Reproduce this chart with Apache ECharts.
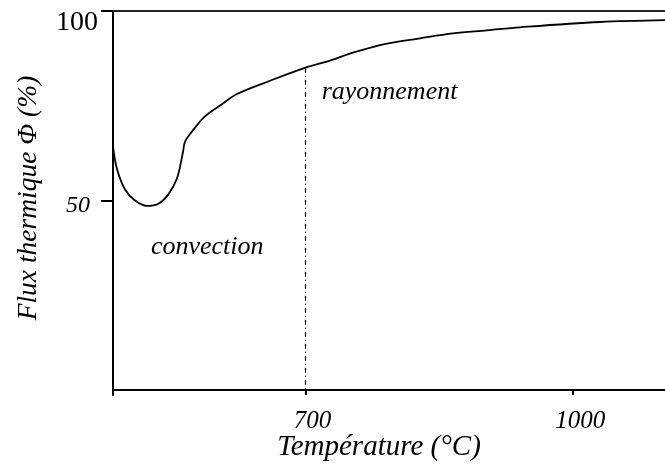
<!DOCTYPE html>
<html>
<head>
<meta charset="utf-8">
<script src="https://cdn.jsdelivr.net/npm/echarts@6/dist/echarts.min.js"></script>
<style>html,body{margin:0;padding:0;background:#fff}#c{width:665px;height:466px}</style>
</head>
<body>
<div id="c"></div>
<script>
var temperatures = [484, 488.5, 497.5, 508.7, 522.1, 534.4, 545.7, 555.7, 562.5, 564.7, 572.6, 587.1, 606.2, 623, 660, 699.2, 727.3, 753, 791.2, 828.2, 865.2, 903.3, 940.3, 1030, 1103];
var flux = [64.2, 58.3, 52.9, 50.0, 48.6, 49.1, 51.5, 55.8, 62.8, 65.5, 68.2, 72.2, 75.4, 78.1, 81.6, 85.0, 86.9, 89.0, 91.4, 92.8, 94.1, 94.9, 95.7, 97.1, 97.6];
var xTicks = [700, 1000];
var yTicks = [50, 100];
var boundaryTemp = 700;
var boundaryFlux = 85.0;
var regionLabels = ['rayonnement', 'convection'];
var regionPos = [[718, 78.5], [526.5, 37.8]];
var xTitle = 'Température (°C)';
var yTitle = 'Flux thermique Φ (%)';

var FONT = 'Liberation Serif';
var data = temperatures.map(function (t, i) { return [t, flux[i]]; });

var chart = echarts.init(document.getElementById('c'));
chart.setOption({
  animation: false,
  backgroundColor: '#fff',
  grid: { left: 113, right: 0, top: 11, bottom: 71, containLabel: false, outerBoundsMode: 'none' },
  xAxis: [{
    type: 'value', min: 484, max: 1103, position: 'bottom',
    splitLine: { show: false },
    axisLine: { show: true, lineStyle: { color: '#000', width: 2 } },
    axisTick: { show: true, customValues: xTicks, length: 5, lineStyle: { color: '#000', width: 2 } },
    axisLabel: { show: true, customValues: xTicks, margin: 14, fontFamily: FONT, fontStyle: 'italic', fontSize: 25, color: '#000',
      padding: [0, 0, 0, 14],
      formatter: function (v) { return String(v); } },
    name: xTitle, nameLocation: 'middle', nameGap: 38, nameMoveOverlap: false,
    nameTextStyle: { fontFamily: FONT, fontStyle: 'italic', fontSize: 29, color: '#000', padding: [0, 20, 0, 0] }
  }, {
    type: 'value', min: 484, max: 1103, position: 'top',
    splitLine: { show: false },
    axisLine: { show: true, lineStyle: { color: '#222', width: 2 } },
    axisTick: { show: false }, axisLabel: { show: false }
  }],
  yAxis: {
    type: 'value', min: -1.3, max: 100,
    splitLine: { show: false },
    axisLine: { show: true, lineStyle: { color: '#000', width: 2 } },
    axisTick: { show: true, customValues: yTicks, length: 12, lineStyle: { color: '#000', width: 2 } },
    axisLabel: {
      show: true, customValues: yTicks, margin: 15, fontFamily: FONT, color: '#000',
      formatter: function (v) { return v === 100 ? '{big|' + v + '}' : '{sm|' + v + '}'; },
      rich: {
        big: { fontFamily: FONT, fontSize: 28, fontStyle: 'normal', color: '#000', padding: [24, 0, 0, 0] },
        sm: { fontFamily: FONT, fontSize: 24, fontStyle: 'italic', color: '#000', padding: [10, 8, 0, 0] }
      }
    },
    name: yTitle, nameLocation: 'middle', nameGap: 71, nameRotate: 90, nameMoveOverlap: false,
    nameTextStyle: { fontFamily: FONT, fontStyle: 'italic', fontSize: 27.5, color: '#000', padding: [0, 0, 0, 10] }
  },
  series: [{
    type: 'line',
    data: data,
    smooth: 0.35,
    showSymbol: false,
    lineStyle: { color: '#000', width: 1.8 },
    markLine: {
      silent: true, symbol: 'none', label: { show: false },
      lineStyle: { color: '#000', width: 1.2, type: [5, 3, 1, 3] },
      data: [[{ coord: [boundaryTemp, boundaryFlux] }, { coord: [boundaryTemp, -1.3] }]]
    }
  }, {
    type: 'scatter',
    data: regionPos.map(function (p, i) { return { value: p, name: regionLabels[i] }; }),
    symbolSize: 0,
    itemStyle: { opacity: 1 },
    label: {
      show: true, position: 'right', distance: 0, color: '#000',
      fontFamily: FONT, fontStyle: 'italic', fontSize: 26,
      formatter: function (p) { return p.name; }
    }
  }]
});
</script>
</body>
</html>
